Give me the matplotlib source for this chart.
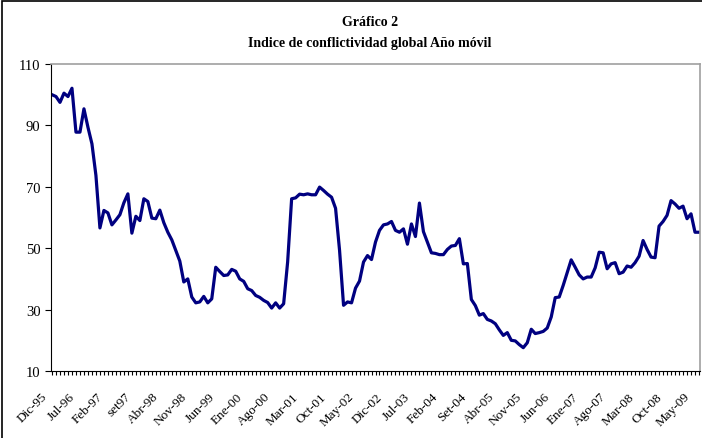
import matplotlib.pyplot as plt
from matplotlib.patches import Rectangle
from matplotlib.transforms import ScaledTranslation

plt.rcParams['font.family'] = ['Liberation Serif', 'DejaVu Serif']

# indice mensual, Dic-95 a Jun-09
indice = [100.0, 99.4, 97.5, 100.5, 99.4, 102.1, 87.8, 87.8, 95.4, 89.4,
          84.0, 73.7, 56.6, 62.3, 61.5, 57.6, 59.2, 60.9, 64.8, 67.7,
          54.9, 60.4, 59.0, 66.1, 65.2, 59.8, 59.6, 62.4, 58.3, 55.2,
          52.7, 49.3, 45.8, 39.0, 40.0, 34.1, 32.2, 32.5, 34.3, 32.2,
          33.5, 43.8, 42.4, 41.1, 41.3, 43.1, 42.5, 40.0, 39.2, 36.8,
          36.2, 34.6, 34.0, 33.0, 32.3, 30.5, 32.2, 30.5, 31.9, 45.5,
          66.1, 66.4, 67.6, 67.4, 67.7, 67.4, 67.4, 69.9, 68.8, 67.6,
          66.6, 63.0, 49.3, 31.4, 32.5, 32.2, 37.0, 39.3, 45.5, 47.6,
          46.3, 52.0, 55.8, 57.6, 57.9, 58.7, 55.8, 55.2, 56.3, 51.3,
          57.9, 53.8, 64.7, 55.4, 52.0, 48.5, 48.3, 47.9, 47.9, 49.6,
          50.7, 50.9, 53.1, 44.9, 45.0, 33.3, 31.3, 28.2, 28.7, 26.8,
          26.3, 25.4, 23.4, 21.6, 22.5, 20.0, 19.8, 18.6, 17.6, 19.2,
          23.6, 22.2, 22.5, 22.9, 24.0, 27.6, 33.9, 34.1, 37.9, 42.0,
          46.2, 43.8, 41.3, 40.0, 40.6, 40.6, 43.6, 48.7, 48.5, 43.3,
          44.9, 45.3, 41.7, 42.2, 44.2, 43.8, 45.3, 47.4, 52.5, 49.6,
          47.1, 46.9, 57.2, 58.7, 60.7, 65.5, 64.4, 63.0, 63.7, 59.6,
          61.2, 55.2, 55.2]

etiquetas = ['Dic-95', 'Jul-96', 'Feb-97', 'set97', 'Abr-98', 'Nov-98', 'Jun-99',
             'Ene-00', 'Ago-00', 'Mar-01', 'Oct-01', 'May-02', 'Dic-02', 'Jul-03',
             'Feb-04', 'Set-04', 'Abr-05', 'Nov-05', 'Jun-06', 'Ene-07', 'Ago-07',
             'Mar-08', 'Oct-08', 'May-09']

meses = list(range(len(indice)))

fig = plt.figure(figsize=(7.02, 4.39), dpi=100)
ax = fig.add_axes([51/702, 1 - 372/439, 649/702, 307/439])

ax.plot(meses, indice, color='#000080', linewidth=2.3, solid_joinstyle='round')

ax.set_xlim(-0.25, len(indice) - 1 + 0.25)
ax.set_ylim(10, 110)
ax.set_yticks([10, 30, 50, 70, 90, 110])
ax.set_xticks(meses, minor=True)
ax.set_xticks(meses[::7])
ax.set_xticklabels(etiquetas, rotation=45, ha='right', va='center',
                   rotation_mode='anchor', fontsize=9.5)
ax.tick_params(axis='x', which='both', direction='out', length=3, width=0.8,
               pad=6)
ax.tick_params(axis='y', direction='out', length=4, width=0.8, labelsize=10.5)

# correr las etiquetas abajo a la izquierda como en Excel
desplaz = ScaledTranslation(-0.07, -0.11, fig.dpi_scale_trans)
for lab in ax.get_xticklabels():
    lab.set_transform(lab.get_transform() + desplaz)

ax.spines['top'].set_color('#a0a0a0')
ax.spines['right'].set_color('#a0a0a0')
ax.spines['top'].set_linewidth(1.2)
ax.spines['right'].set_linewidth(1.2)

fig.text(0.527, 1 - 22/439, 'Gráfico 2', ha='center', va='center',
         fontsize=10, fontweight='bold')
fig.text(0.527, 1 - 44/439, 'Indice de conflictividad global Año móvil',
         ha='center', va='center', fontsize=10, fontweight='bold')

# borde del area del grafico
fig.patches.append(Rectangle((2/702, -0.1), 1.1, 1 - 2/439 + 0.1,
                             transform=fig.transFigure, fill=False,
                             edgecolor='black', linewidth=1.2))

fig.savefig('out.png', dpi=100)
